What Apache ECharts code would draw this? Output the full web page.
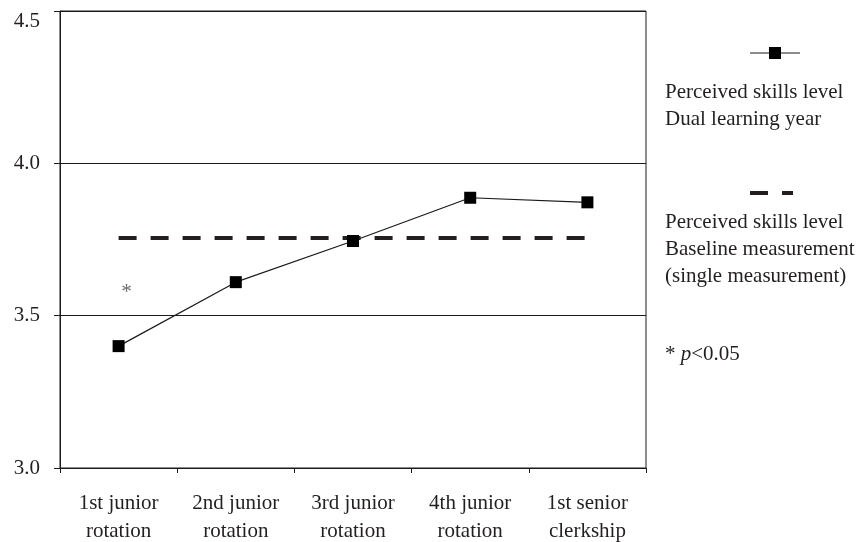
<!DOCTYPE html>
<html>
<head>
<meta charset="utf-8">
<script src="https://cdn.jsdelivr.net/npm/echarts@6/dist/echarts.min.js"></script>
<style>
html,body{margin:0;padding:0;background:#fff;}
#chart{width:858px;height:542px;}
</style>
</head>
<body>
<div id="chart"></div>
<script>
var categories = ['1st junior\nrotation', '2nd junior\nrotation', '3rd junior\nrotation', '4th junior\nrotation', '1st senior\nclerkship'];
var dualYear = [3.40, 3.61, 3.745, 3.887, 3.872];
var baseline = [3.755, 3.755, 3.755, 3.755, 3.755];
var significance = [[0, 3.59, '*']];
var yTicks = [3.0, 3.5, 4.0, 4.5];

var FONT = '"Liberation Serif", "Times New Roman", serif';
var TXT = '#231f20';
var chart = echarts.init(document.getElementById('chart'), null, {renderer: 'canvas'});

var option = {
  backgroundColor: '#fff',
  animation: false,
  textStyle: {fontFamily: FONT, color: TXT},
  grid: {left: 60, right: 212, top: 11, bottom: 74, show: true, borderColor: '#1a1a1a', borderWidth: 1,
    backgroundColor: 'transparent', containLabel: false, outerBoundsMode: 'none'},
  xAxis: {
    type: 'category',
    data: categories,
    boundaryGap: true,
    axisLine: {lineStyle: {color: '#1a1a1a', width: 1}},
    axisTick: {show: true, length: 5, lineStyle: {color: '#1a1a1a'}},
    axisLabel: {fontFamily: FONT, fontSize: 21, color: TXT, lineHeight: 28, margin: 21}
  },
  yAxis: {
    type: 'value',
    min: yTicks[0],
    max: yTicks[yTicks.length - 1],
    interval: 0.5,
    axisLine: {show: true, lineStyle: {color: '#1a1a1a', width: 1}},
    axisTick: {show: true, length: 6, lineStyle: {color: '#1a1a1a'}},
    splitLine: {show: true, lineStyle: {color: '#1a1a1a', width: 1}},
    axisLabel: {fontFamily: FONT, fontSize: 21, color: TXT, margin: 20,
      verticalAlignMaxLabel: 'top',
      formatter: function (v) { return v.toFixed(1); }}
  },
  series: [
    {
      name: 'Baseline', type: 'line', data: baseline, symbol: 'none',
      lineStyle: {color: '#231f20', width: 4, type: [18, 14]}, z: 2
    },
    {
      name: 'Dual learning year', type: 'line', data: dualYear,
      symbol: 'rect', symbolSize: 12, showSymbol: true,
      itemStyle: {color: '#000'},
      lineStyle: {color: '#1a1a1a', width: 1.2}, z: 3
    },
    {
      name: 'sig', type: 'scatter', data: significance, symbolSize: 0,
      label: {show: true, position: 'inside', offset: [8, 4], formatter: function (p) { return p.data[2]; },
        fontFamily: FONT, fontSize: 21, color: '#444'}
    }
  ],
  graphic: [
    {type: 'line', shape: {x1: 750, y1: 53, x2: 800, y2: 53}, style: {stroke: '#1a1a1a', lineWidth: 1.2}},
    {type: 'rect', shape: {x: 769, y: 47, width: 12, height: 12}, style: {fill: '#000'}},
    {type: 'text', left: 665, top: 79, style: {text: 'Perceived skills level\nDual learning year', font: '21px ' + FONT, fill: TXT, lineHeight: 27}},
    {type: 'line', shape: {x1: 750, y1: 193, x2: 768, y2: 193}, style: {stroke: '#231f20', lineWidth: 4}},
    {type: 'line', shape: {x1: 782, y1: 193, x2: 793, y2: 193}, style: {stroke: '#231f20', lineWidth: 4}},
    {type: 'text', left: 665, top: 209, style: {text: 'Perceived skills level\nBaseline measurement\n(single measurement)', font: '21px ' + FONT, fill: TXT, lineHeight: 27}},
    {type: 'text', left: 665, top: 344, style: {
      text: '{a|* }{b|p}{a|<0.05}',
      rich: {
        a: {fontFamily: FONT, fontSize: 21, fill: TXT, color: TXT},
        b: {fontFamily: FONT, fontSize: 21, fontStyle: 'italic', fill: TXT, color: TXT}
      }
    }}
  ]
};
chart.setOption(option);
</script>
</body>
</html>
